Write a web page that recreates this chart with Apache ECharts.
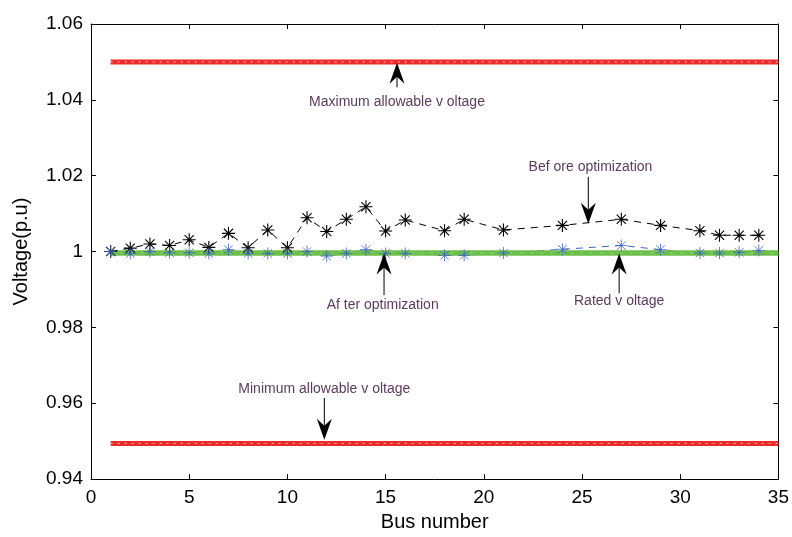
<!DOCTYPE html>
<html>
<head>
<meta charset="utf-8">
<script src="https://cdn.jsdelivr.net/npm/echarts@6/dist/echarts.min.js"></script>
<style>
html,body{margin:0;padding:0;background:#fff;}
#chart{width:792px;height:537px;}
</style>
</head>
<body>
<div id="chart"></div>
<script>
// ---- data ----
const busNumbers = [1,2,3,4,5,6,7,8,9,10,11,12,13,14,15,16,18,19,21,24,27,29,31,32,33,34];
const voltageBefore = [1.0000,1.0009,1.0020,1.0016,1.0031,1.0011,1.0048,1.0010,1.0057,1.0010,1.0089,1.0053,1.0085,1.0118,1.0054,1.0083,1.0055,1.0085,1.0057,1.0069,1.0085,1.0069,1.0055,1.0043,1.0043,1.0043];
const voltageAfter = [1.0000,0.9995,1.0000,0.9997,0.9997,0.9995,1.0005,0.9995,0.9995,0.9995,1.0000,0.9988,0.9995,1.0005,0.9995,0.9995,0.9990,0.9990,0.9996,1.0006,1.0016,1.0005,0.9996,0.9996,0.9998,1.0003];
const limitBuses = [1, 35];
const maxVoltage = [1.05, 1.05];
const minVoltage = [0.9494, 0.9494];
const ratedVoltage = [0.9996, 0.9996];
const xTicks = [0,5,10,15,20,25,30,35];
const yTicks = [0.94,0.96,0.98,1,1.02,1.04,1.06];

const annotations = [
  {text:'Maximum allowable v oltage', tx:15.58, ty:1.0394, ax:15.58, tail:1.0433, tip:1.0498},
  {text:'Bef ore optimization', tx:25.43, ty:1.0223, ax:25.32, tail:1.0197, tip:1.0073},
  {text:'Af ter optimization', tx:14.85, ty:0.9858, ax:14.92, tail:0.9885, tip:0.9995},
  {text:'Rated v oltage', tx:26.89, ty:0.9869, ax:26.89, tail:0.9890, tip:0.9995},
  {text:'Minimum allowable v oltage', tx:11.88, ty:0.9638, ax:11.88, tail:0.9614, tip:0.9504}
];

const pairs = (xs, ys) => xs.map((x, i) => [x, ys[i]]);
const asterisk = 'path://M0,6L12,6M6,0L6,12M1.76,1.76L10.24,10.24M10.24,1.76L1.76,10.24';
const FONT = 'Liberation Sans, Arial, Helvetica, sans-serif';

const chart = echarts.init(document.getElementById('chart'), null, {renderer:'canvas'});

const axisCommon = {
  type:'value',
  axisLine:{show:true, onZero:false, lineStyle:{color:'#000', width:1}},
  axisTick:{show:true, inside:true, length:5, lineStyle:{color:'#000'}},
  splitLine:{show:false}
};

const fmtY = v => String(parseFloat(v.toFixed(2)));

const option = {
  animation:false,
  backgroundColor:'#fff',
  grid:{left:91, right:11, top:24, bottom:55, containLabel:false},
  xAxis:[
    Object.assign({}, axisCommon, {
      min:0, max:35, interval:5, position:'bottom',
      name:'Bus number', nameLocation:'middle', nameGap:31,
      nameTextStyle:{fontFamily:FONT, fontSize:20, color:'#000'},
      axisLabel:{fontFamily:FONT, fontSize:19, color:'#000', margin:9}
    }),
    Object.assign({}, axisCommon, {
      min:0, max:35, interval:5, position:'top', axisLabel:{show:false}
    })
  ],
  yAxis:[
    Object.assign({}, axisCommon, {
      min:0.94, max:1.06, interval:0.02, position:'left',
      name:'Voltage(p.u)', nameLocation:'middle', nameGap:60, nameRotate:90,
      nameTextStyle:{fontFamily:FONT, fontSize:20, color:'#000'},
      axisLabel:{fontFamily:FONT, fontSize:19, color:'#000', margin:8, formatter:fmtY}
    }),
    Object.assign({}, axisCommon, {
      min:0.94, max:1.06, interval:0.02, position:'right', axisLabel:{show:false}
    })
  ],
  series:[
    {
      type:'line', name:'max', data:pairs(limitBuses, maxVoltage), showSymbol:false,
      lineStyle:{color:'#ee2a2a', width:5}, z:3
    },
    {
      type:'line', name:'maxDots', data:pairs(limitBuses, maxVoltage), showSymbol:false,
      lineStyle:{color:'rgba(255,255,255,0.7)', width:1, type:[2,5]}, z:4
    },
    {
      type:'line', name:'min', data:pairs(limitBuses, minVoltage), showSymbol:false,
      lineStyle:{color:'#ee2a2a', width:5}, z:3
    },
    {
      type:'line', name:'minDots', data:pairs(limitBuses, minVoltage), showSymbol:false,
      lineStyle:{color:'rgba(255,255,255,0.7)', width:1, type:[2,5]}, z:4
    },
    {
      type:'line', name:'Before optimization', data:pairs(busNumbers, voltageBefore),
      symbol:asterisk, symbolSize:13, showSymbol:true,
      itemStyle:{color:'rgba(0,0,0,0)', borderColor:'#000', borderWidth:1.1},
      lineStyle:{color:'#000', width:1, type:[7,6]}, z:5
    },
    {
      type:'line', name:'After optimization', data:pairs(busNumbers, voltageAfter),
      symbol:'none', lineStyle:{color:'#3a62c4', width:1, type:[7,6]}, z:2
    },
    {
      type:'line', name:'rated', data:pairs(limitBuses, ratedVoltage), showSymbol:false,
      lineStyle:{color:'#6cbf4a', width:5.5}, z:3
    },
    {
      type:'line', name:'ratedDots', data:pairs(limitBuses, ratedVoltage), showSymbol:false,
      lineStyle:{color:'rgba(255,255,255,0.4)', width:1, type:[2,8]}, z:4
    },
    {
      type:'scatter', name:'After markers', data:pairs(busNumbers, voltageAfter),
      symbol:asterisk, symbolSize:12,
      itemStyle:{color:'rgba(0,0,0,0)', borderColor:'#3a62c4', borderWidth:1}, z:6
    }
  ]
};
chart.setOption(option);

function buildGraphics(){
  const els = [];
  annotations.forEach(a => {
    const t = chart.convertToPixel({gridIndex:0}, [a.tx, a.ty]);
    const tail = chart.convertToPixel({gridIndex:0}, [a.ax, a.tail]);
    const tip = chart.convertToPixel({gridIndex:0}, [a.ax, a.tip]);
    const dir = tip[1] < tail[1] ? -1 : 1; // -1 = pointing up
    const headLen = 21, headW = 7.5, notch = 14;
    els.push({
      type:'text', x:t[0], y:t[1], z:20,
      style:{text:a.text, fill:'#5b3b5d', font:'14px ' + FONT, align:'center', verticalAlign:'middle'}
    });
    els.push({
      type:'line', z:20,
      shape:{x1:tail[0], y1:tail[1], x2:tip[0], y2:tip[1] - dir*notch},
      style:{stroke:'#000', lineWidth:1}
    });
    els.push({
      type:'polygon', z:20,
      shape:{points:[
        [tip[0], tip[1]],
        [tip[0]-headW, tip[1]-dir*headLen],
        [tip[0], tip[1]-dir*notch],
        [tip[0]+headW, tip[1]-dir*headLen]
      ]},
      style:{fill:'#000'}
    });
  });
  chart.setOption({graphic:{elements:els}});
}
buildGraphics();
</script>
</body>
</html>
